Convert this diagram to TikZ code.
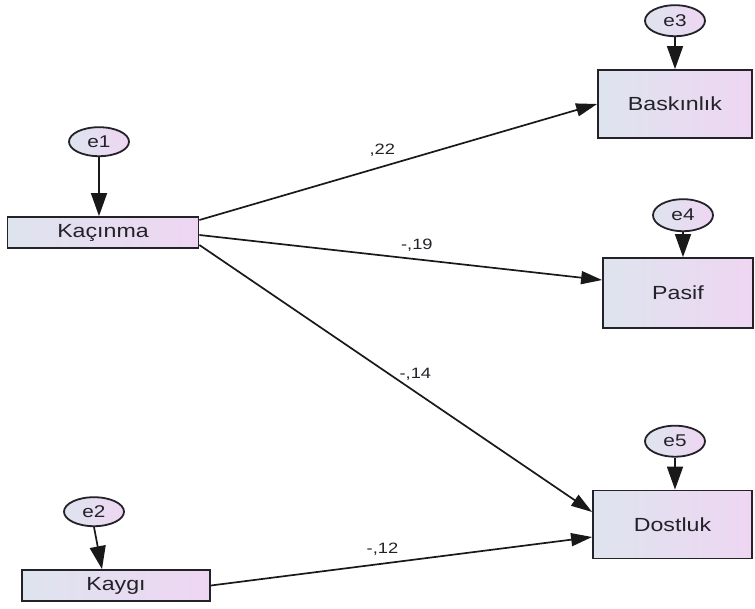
\documentclass[tikz,border=0pt]{standalone}
\usepackage{fontspec}
\setmainfont{Liberation Sans}
\usetikzlibrary{arrows.meta, positioning, shapes.geometric}
\definecolor{boxleft}{RGB}{222,228,238}
\definecolor{boxright}{RGB}{238,214,242}
\definecolor{inkgray}{RGB}{34,34,40}
\newcommand{\wide}[1]{\scalebox{1.22}[1]{#1}}

\begin{document}
\begin{tikzpicture}[x=1pt, y=-1pt]
\tikzset{% observed variables, error terms and paths
  obsbox/.style={rectangle, draw=inkgray, line width=1.8pt, left color=boxleft, right color=boxright, inner sep=0pt, text=inkgray, font=\fontsize{19}{21}\selectfont},
  errnode/.style={ellipse, draw=inkgray, line width=1.8pt, left color=boxleft, right color=boxright, inner sep=0pt, minimum width=60pt, minimum height=29pt, text=inkgray, font=\fontsize{17}{19}\selectfont},
  line/.style={draw, line width=1.7pt, color=black!90, -{Triangle[length=21pt, width=13pt]}},
  errline/.style={draw, line width=1.7pt, color=black!90, -{Triangle[length=23pt, width=16pt]}},
  coef/.style={text=inkgray, font=\fontsize{15}{17}\selectfont},
}
\useasboundingbox (0,0) rectangle (755,608);

\node[obsbox, minimum width=191pt, minimum height=31pt] (Kacinma) at (103,232.5) {\wide{Kaçınma}};
\node[obsbox, minimum width=188pt, minimum height=31pt] (Kaygi) at (116,585.5) {\wide{Kaygı}};
\node[obsbox, minimum width=154pt, minimum height=68pt] (Baskinlik) at (675,104) {\wide{Baskınlık}};
\node[obsbox, minimum width=150pt, minimum height=70pt] (Pasif) at (678,293) {\wide{Pasif}};
\node[obsbox, minimum width=159pt, minimum height=68pt] (Dostluk) at (672.5,524.5) {\wide{Dostluk}};

\node[errnode, above=59pt of Kacinma, xshift=-4pt] (e1) {\wide{e1}};
\node[errnode, above=42pt of Kaygi, xshift=-22pt] (e2) {\wide{e2}};
\node[errnode, above=32pt of Baskinlik, minimum height=31pt] (e3) {\wide{e3}};
\node[errnode, above=25pt of Pasif, xshift=5pt, minimum height=32pt] (e4) {\wide{e4}};
\node[errnode, above=32pt of Dostluk, xshift=2.5pt, minimum height=31pt] (e5) {\wide{e5}};

\draw[errline] (e1) -- (e1 |- Kacinma.north);
\draw[errline] (e2.south) -- ([xshift=-14pt]Kaygi.north);
\draw[errline] (e3) -- (e3 |- Baskinlik.north);
\draw[errline] (e4) -- (e4 |- Pasif.north);
\draw[errline] (e5) -- (e5 |- Dostluk.north);

\draw[line] ([yshift=12.5pt]Kacinma.east) -- (Baskinlik.west)
  node[coef, pos=0.46, above=6pt] {\wide{,22}};
\draw[line] ([yshift=-2.5pt]Kacinma.east) -- ([yshift=13pt]Pasif.west)
  node[coef, pos=0.54, above=4pt] {\wide{-,19}};
\draw[line] ([yshift=-12.5pt]Kacinma.east) -- ([yshift=12.5pt]Dostluk.west)
  node[coef, pos=0.55, above=7pt] {\wide{-,14}};
\draw[line] (Kaygi.east) -- ([yshift=-12.5pt]Dostluk.west)
  node[coef, pos=0.45, above=4pt] {\wide{-,12}};
\end{tikzpicture}
\end{document}
